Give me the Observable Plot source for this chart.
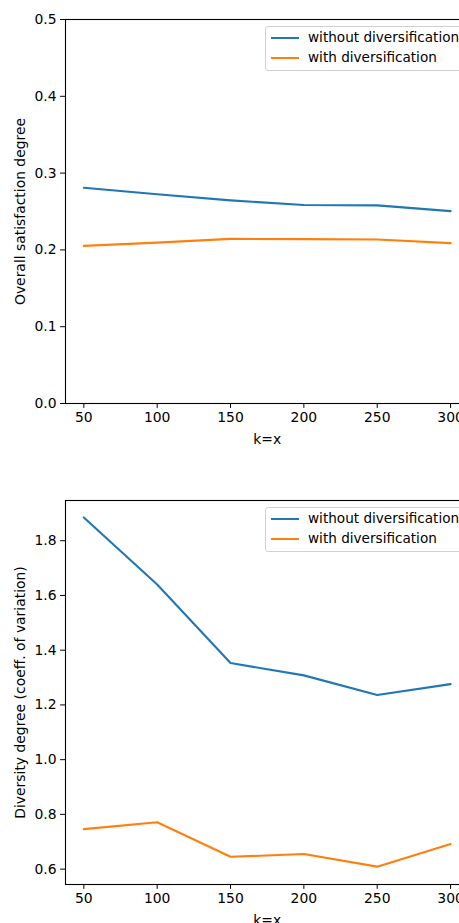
<!DOCTYPE html>
<html>
<head>
<meta charset="utf-8">
<script src="https://cdn.jsdelivr.net/npm/d3@7"></script>
<script src="https://cdn.jsdelivr.net/npm/@observablehq/plot@0.6"></script>
<style>
  html, body { margin: 0; padding: 0; background: white; overflow: hidden; width: 459px; }
  #wrap { position: relative; width: 459px; height: 923px; overflow: hidden; }
  .panel { position: absolute; left: 0; max-width: none !important; }
  .legend { position: absolute; left: 265px; width: 220px; height: 43px; border: 1px solid #d0d0d0; border-radius: 3px; background: rgba(255,255,255,0.8); font-family: "DejaVu Sans", sans-serif; font-size: 13.6px; color: black; }
  .row { position: absolute; left: 0; height: 20px; }
  .sw { position: absolute; left: 5px; width: 28px; height: 2px; }
  .lab { position: absolute; left: 42px; white-space: nowrap; line-height: 16px; }
</style>
</head>
<body>
<div id="wrap"></div>
<script>
const ks = [50, 100, 150, 200, 250, 300];
const seriesNames = ["without diversification", "with diversification"];
const colors = ["#1f77b4", "#ff7f0e"];
const satWithout = [0.281, 0.2725, 0.2645, 0.2585, 0.258, 0.2505];
const satWith = [0.2053, 0.2095, 0.2144, 0.2140, 0.2135, 0.2088];
const divWithout = [1.885, 1.640, 1.353, 1.308, 1.236, 1.276];
const divWith = [0.746, 0.771, 0.645, 0.655, 0.609, 0.692];
const satTicks = [0, 0.1, 0.2, 0.3, 0.4, 0.5];
const divTicks = [0.6, 0.8, 1.0, 1.2, 1.4, 1.6, 1.8];
const xLabel = "k=x";
const satLabel = "Overall satisfaction degree";
const divLabel = "Diversity degree (coeff. of variation)";

function panel(seriesVals, yDomain, yTicks, yLabel, mt, mb, h) {
  const data = ks.flatMap((k, i) => seriesNames.map((s, j) => ({k, v: seriesVals[j][i], s})));
  return Plot.plot({
    width: 470, height: h,
    marginLeft: 65, marginRight: 1.6, marginTop: mt, marginBottom: mb,
    style: {fontFamily: "DejaVu Sans", fontSize: "13.9px", color: "black", background: "white", overflow: "visible", maxWidth: "none"},
    x: {domain: [37.5, 312.5], ticks: ks, tickFormat: d => String(d), label: xLabel, labelAnchor: "center", labelArrow: "none", labelOffset: 40, tickSize: 4.9, tickPadding: 4},
    y: {domain: yDomain, ticks: yTicks, tickFormat: d => d.toFixed(1), label: yLabel, labelAnchor: "center", labelArrow: "none", labelOffset: 50, tickSize: 4.9, tickPadding: 4},
    color: {domain: seriesNames, range: colors},
    marks: [
      Plot.line(data, {x: "k", y: "v", stroke: "s", strokeWidth: 2.1}),
      Plot.frame({stroke: "black", strokeWidth: 1.1})
    ]
  });
}

function legend(top) {
  const d = document.createElement("div");
  d.className = "legend";
  d.style.top = top + "px";
  seriesNames.forEach((s, i) => {
    const r = document.createElement("div");
    r.className = "row";
    r.style.top = (i * 20.3) + "px";
    const sw = document.createElement("div");
    sw.className = "sw"; sw.style.background = colors[i]; sw.style.top = "10px";
    const lab = document.createElement("div");
    lab.className = "lab"; lab.textContent = s; lab.style.top = "2px";
    r.appendChild(sw); r.appendChild(lab);
    d.appendChild(r);
  });
  return d;
}

const wrap = document.getElementById("wrap");
const p1 = panel([satWithout, satWith], [0, 0.5], satTicks, satLabel, 19, 57, 460);
p1.classList.add("panel"); p1.style.top = "0px"; p1.style.maxWidth = "none";
const p2 = panel([divWithout, divWith], [0.5438, 1.947], divTicks, divLabel, 40, 39, 463);
p2.classList.add("panel"); p2.style.top = "460px"; p2.style.maxWidth = "none";
wrap.appendChild(p1); wrap.appendChild(p2);
wrap.appendChild(legend(26));
wrap.appendChild(legend(507));
</script>
</body>
</html>
